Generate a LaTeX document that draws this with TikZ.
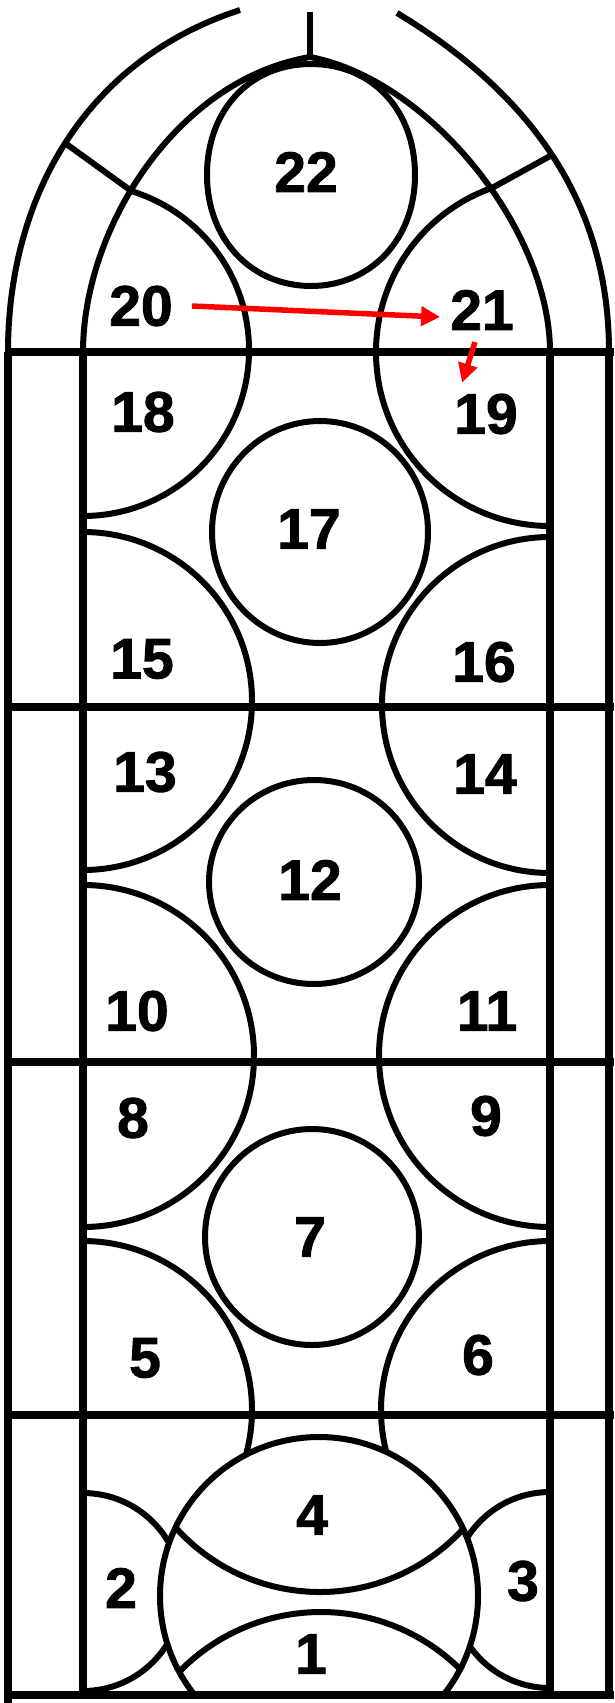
\documentclass[tikz,border=0pt]{standalone}
\usepackage{fontspec}
\newfontfamily\numfont{Liberation Sans Bold}[FakeBold=1.6]
\usetikzlibrary{arrows.meta}

\tikzset{
    lead/.style={line width=6pt, black},
    bar/.style={line width=7.5pt, black},
    pane/.style={font=\numfont\fontsize{57}{57}\selectfont, inner sep=2pt},
    redarrow/.style={red, line width=5.5pt, -{Triangle[length=19pt, width=19pt]}}
}

\begin{document}
\begin{tikzpicture}[x=1pt, y=-1pt]
    \fill[white] (0,0) rectangle (614,1703);
    \useasboundingbox (0,0) rectangle (614,1703);
    %lobi laterali
    \begin{scope}
        \clip (83,352) .. controls (83,230) and (175,80) .. (310,57)
              .. controls (430,80) and (550,230) .. (550,352)
              -- (550,1695) -- (83,1695) -- cycle;
        \draw[lead] (83,350) circle[radius=166];
        \draw[lead] (83,701) circle[radius=169];
        \draw[lead] (83,1056) circle[radius=171];
        \draw[lead] (550,352) circle[radius=174];
        \draw[lead] (550,705) circle[radius=168];
        \draw[lead] (550,1056) circle[radius=171];
    \end{scope}
    %lobi in basso
    \draw[lead] (83,1241) arc[start angle=-90, end angle=16, radius=169];
    \draw[lead] (550,1241) arc[start angle=270, end angle=164, radius=169];
    \draw[lead] (83,1493) arc[start angle=-90, end angle=90, radius=99];
    \draw[lead] (550,1492) arc[start angle=270, end angle=90, radius=98];
    %cerchio grande
    \begin{scope}
        \clip (0,0) rectangle (614,1695);
        \draw[lead, fill=white] (319,1596) circle[radius=159];
    \end{scope}
    \begin{scope}
        \clip (319,1596) circle[radius=159];
        \draw[lead] (320,1398) ++(145:194) arc[start angle=145, end angle=35, radius=194];
        \draw[lead] (321,1810) ++(-145:198) arc[start angle=-145, end angle=-35, radius=198];
    \end{scope}
    %cerchi centrali
    \draw[lead] (311,64) .. controls (372,64) and (415,110) .. (415,175)
                .. controls (415,240) and (370,286) .. (311,286)
                .. controls (252,286) and (207,240) .. (207,175)
                .. controls (207,110) and (250,64) .. (311,64) -- cycle;
    \draw[lead] (320,532) ellipse[x radius=108, y radius=111];
    \draw[lead] (314,882) ellipse[x radius=105, y radius=102];
    \draw[lead] (312,1237) ellipse[x radius=107, y radius=108];
    %archi
    \draw[lead] (83,352) .. controls (83,230) and (175,80) .. (310,57)
                .. controls (430,80) and (550,230) .. (550,352);
    \draw[lead] (8,352) .. controls (8,200) and (83,61) .. (240,10);
    \draw[lead] (609,352) .. controls (609,200) and (528,92) .. (397,13);
    \draw[lead] (310,12) -- (310,57);
    %raggi
    \coordinate (spokeL) at (130.7,190.5);
    \coordinate (spokeR) at (491,188.5);
    \coordinate (rimL) at (65,143);
    \coordinate (rimR) at (552,155);
    \draw[lead] (spokeL) -- (rimL);
    \draw[lead] (spokeR) -- (rimR);
    %montanti e traverse
    \draw[bar] (8,352) -- (8,1703);
    \draw[bar] (83,352) -- (83,1695);
    \draw[bar] (550,352) -- (550,1695);
    \draw[bar] (609,352) -- (609,1695);
    \foreach \y in {352,707,1062,1415,1695}
        \draw[bar] (8,\y) -- (614,\y);
    %numeri
    \node[pane] (n22) at (306,172) {22};
    \node[pane] (n20) at (141,306) {20};
    \node[pane] (n21) at (482,310) {21};
    \node[pane] (n18) at (143,412) {18};
    \node[pane] (n19) at (486,414) {19};
    \node[pane] (n17) at (309,529) {17};
    \node[pane] (n15) at (142,659) {15};
    \node[pane] (n16) at (484,662) {16};
    \node[pane] (n13) at (145,772) {13};
    \node[pane] (n14) at (485,774) {14};
    \node[pane] (n12) at (310,880) {12};
    \node[pane] (n10) at (137,1011) {10};
    \node[pane] (n11) at (487,1011) {11};
    \node[pane] (n8) at (133,1118) {8};
    \node[pane] (n9) at (486,1116) {9};
    \node[pane] (n7) at (310,1237) {7};
    \node[pane] (n5) at (145,1358) {5};
    \node[pane] (n6) at (478,1355) {6};
    \node[pane] (n4) at (312,1515) {4};
    \node[pane] (n2) at (121,1588) {2};
    \node[pane] (n3) at (523,1581) {3};
    \node[pane] (n1) at (311,1654) {1};
    %frecce
    \draw[redarrow] ([xshift=17pt]n20.east) -- ([xshift=-8pt, yshift=-7pt]n21.west);
    \draw[redarrow] ([xshift=-7pt, yshift=-10pt]n21.south) -- ([xshift=10pt, yshift=9pt]n19.north west);
\end{tikzpicture}
\end{document}
